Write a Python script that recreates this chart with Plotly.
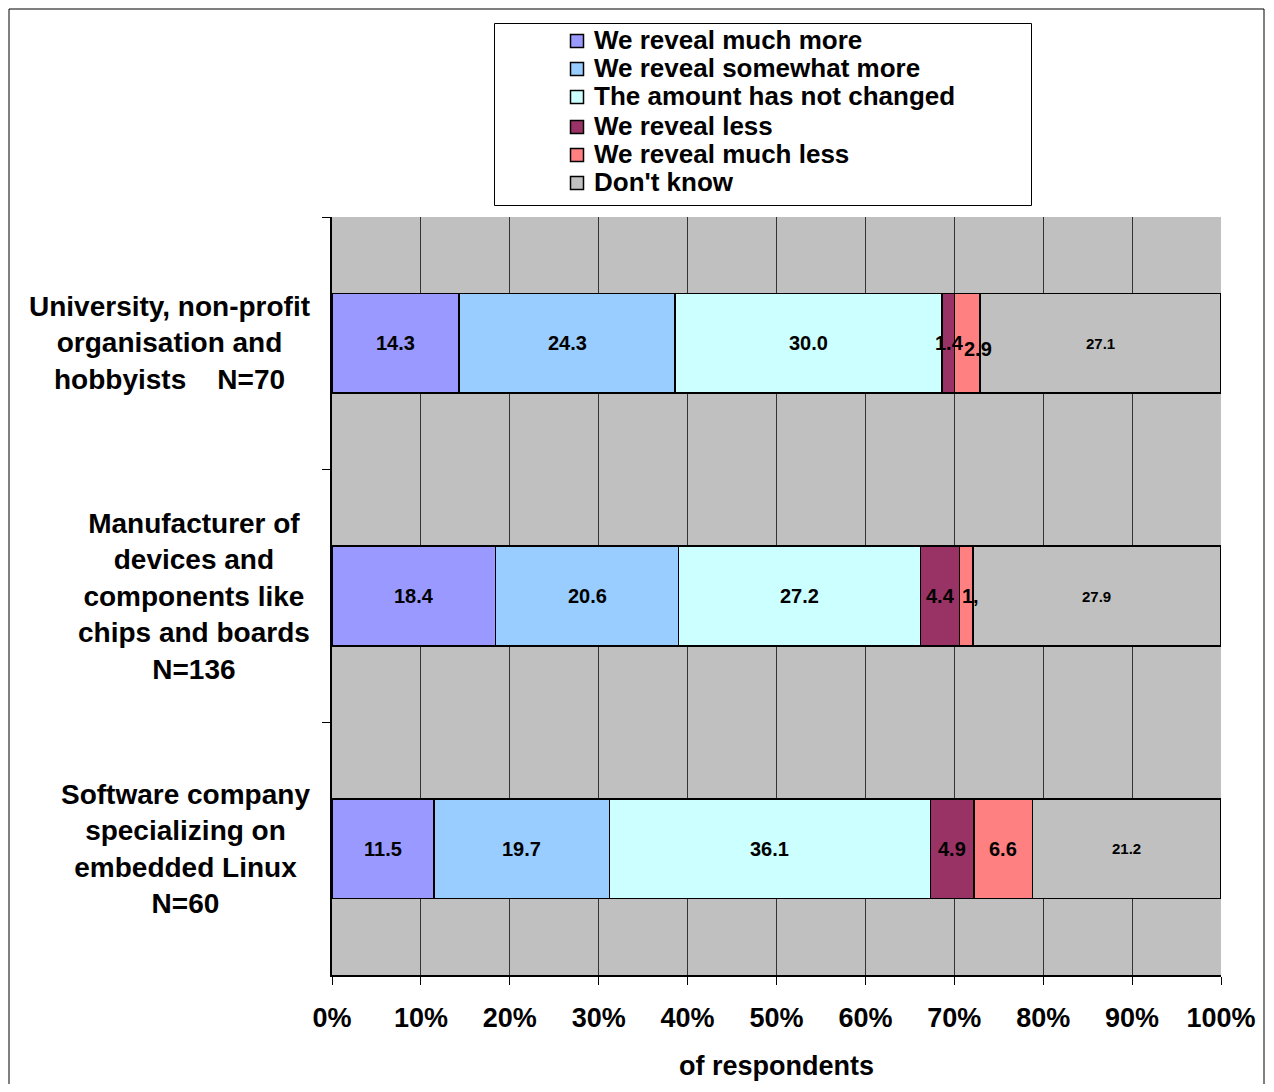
import plotly.graph_objects as go

categories = [
    "University, non-profit<br>organisation and<br>hobbyists\u00a0\u00a0\u00a0\u00a0N=70",
    "Manufacturer of<br>devices and<br>components like<br>chips and boards<br>N=136",
    "Software company<br>specializing on<br>embedded Linux<br>N=60",
]
cat_keys = ["University", "Manufacturer", "Software"]

series_names = [
    "We reveal much more",
    "We reveal somewhat more",
    "The amount has not changed",
    "We reveal less",
    "We reveal much less",
    "Don't know",
]
much_more = [14.3, 18.4, 11.5]
somewhat_more = [24.3, 20.6, 19.7]
not_changed = [30.0, 27.2, 36.1]
less = [1.4, 4.4, 4.9]
much_less = [2.9, 1.5, 6.6]
dont_know = [27.1, 27.9, 21.2]
series_values = [much_more, somewhat_more, not_changed, less, much_less, dont_know]

# labels as printed on the chart (one label truncated in the original)
label_overrides = {(4, 1): "1,"}

x_ticks = [0, 10, 20, 30, 40, 50, 60, 70, 80, 90, 100]
x_tick_labels = [f"{t}%" for t in x_ticks]

colors = ["#9999FF", "#99CCFF", "#CCFFFF", "#993366", "#FF8080", "#C0C0C0"]
FONT = "Liberation Sans, Arial, sans-serif"

# page has an 8px body margin; screen-space geometry of the reference
OFF = 8
W, H = 1274 - 2 * OFF, 1092 - 2 * OFF
PL, PR, PT, PB = 332, 1221, 217, 975          # plot area in screen pixels
L, T = PL - OFF, PT - OFF
R, B = W - (PR - OFF), H - (PB - OFF)
pw, ph = PR - PL, PB - PT

def px2x(p):
    return (p - PL) / pw

def py2y(p):
    return (PB - p) / ph

fig = go.Figure()
for i, (name, vals) in enumerate(zip(series_names, series_values)):
    fig.add_trace(go.Bar(
        name=name, y=cat_keys, x=vals, orientation="h",
        marker=dict(color=colors[i], line=dict(color="black", width=1.5)),
        textposition="none", hoverinfo="x+name",
    ))

annotations = []
# segment labels
for ci, key in enumerate(cat_keys):
    cum = 0.0
    for si, vals in enumerate(series_values):
        v = vals[ci]
        center = cum + v / 2
        cum += v
        txt = label_overrides.get((si, ci), f"{v:.1f}")
        size = 15 if si == 5 else 20
        xshift, yshift = 0, 0
        if (si, ci) == (4, 0):
            xshift, yshift = 11, -6
        if (si, ci) == (3, 0):
            xshift = 1
        if (si, ci) == (4, 1):
            xshift = 4
        annotations.append(dict(
            x=center, y=key, xref="x", yref="y", text=txt, showarrow=False,
            font=dict(family=FONT, size=size, color="black", weight="bold"),
            xshift=xshift, yshift=yshift,
        ))
# category labels
for key, lab in zip(cat_keys, categories):
    annotations.append(dict(
        x=0, y=key, xref="paper", yref="y", text=lab, showarrow=False,
        xanchor="right", align="center", xshift=-20,
        font=dict(family=FONT, size=28, color="black", weight="bold"),
    ))
# axis title
annotations.append(dict(
    x=0.5, y=py2y(1066), xref="paper", yref="paper", text="of respondents",
    showarrow=False, yanchor="middle",
    font=dict(family=FONT, size=27, color="black", weight="bold"),
))

shapes = [
    # outer chart border
    dict(type="rect", xref="paper", yref="paper",
         x0=px2x(9), x1=px2x(1264), y0=py2y(1100), y1=py2y(9),
         line=dict(color="black", width=1), fillcolor="rgba(0,0,0,0)", layer="below"),
    # legend box
    dict(type="rect", xref="paper", yref="paper",
         x0=px2x(494.5), x1=px2x(1031.5), y0=py2y(205.5), y1=py2y(23.5),
         line=dict(color="black", width=1), fillcolor="white"),
]

# legend entries (manual, to match the original's spacing)
row_centers = [40, 68, 96, 126, 154, 182]
for name, col, rc in zip(series_names, colors, row_centers):
    shapes.append(dict(
        type="rect", xref="paper", yref="paper",
        x0=px2x(570.5), x1=px2x(583.5), y0=py2y(rc + 7.5), y1=py2y(rc - 5.5),
        line=dict(color="black", width=1.5), fillcolor=col,
    ))
    annotations.append(dict(
        x=px2x(592), y=py2y(rc), xref="paper", yref="paper", text=name,
        showarrow=False, xanchor="left", yanchor="middle",
        font=dict(family=FONT, size=26, color="black", weight="bold"),
    ))

fig.update_layout(
    width=W, height=H,
    margin=dict(l=L, r=R, t=T, b=B, autoexpand=False),
    barmode="stack", bargap=0.605,
    plot_bgcolor="#C0C0C0", paper_bgcolor="white",
    font=dict(family=FONT, size=26, color="black", weight="bold"),
    showlegend=False,
    xaxis=dict(
        range=[0, 100], tickvals=x_ticks, ticktext=x_tick_labels,
        showgrid=True, gridcolor="#333333", gridwidth=1,
        showline=True, linecolor="black", linewidth=1.5,
        ticks="outside", ticklen=8, tickcolor="black",
        ticklabelstandoff=10,
        tickfont=dict(family=FONT, size=27, color="black", weight="bold"),
        zeroline=False, fixedrange=True,
    ),
    yaxis=dict(
        categoryorder="array", categoryarray=cat_keys, autorange="reversed",
        showticklabels=False, ticks="outside", ticklen=8, tickcolor="black",
        tickson="boundaries", showgrid=False,
        showline=True, linecolor="black", linewidth=1.5, zeroline=False,
    ),
    annotations=annotations,
    shapes=shapes,
)

fig.write_html("out.html")
